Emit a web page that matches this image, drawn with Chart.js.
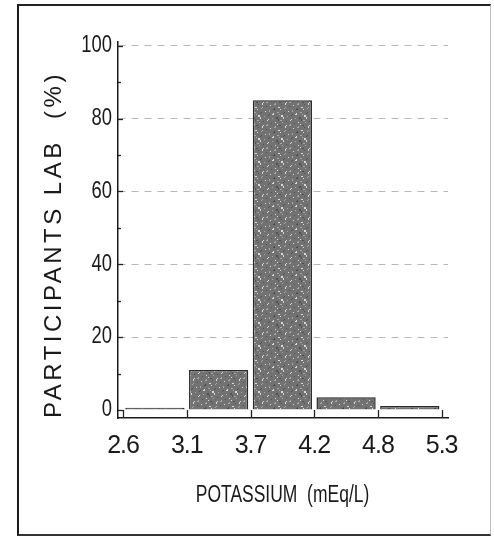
<!DOCTYPE html>
<html><head><meta charset="utf-8">
<script src="https://cdn.jsdelivr.net/npm/chart.js@4.4.1/dist/chart.umd.min.js"></script>
<style>
html,body{margin:0;padding:0;background:#fff;}
#wrap{position:relative;width:494px;height:536px;overflow:hidden;}
#frame{position:absolute;left:17px;top:4px;width:471px;height:528px;border-left:2px solid #1a1a1a;border-top:2px solid #222;border-bottom:2px solid #333;border-right:1px solid #bbb;}
canvas{position:absolute;left:0;top:0;}
</style></head><body>
<div id="wrap"><div id="frame"></div><canvas id="c" width="494" height="536" style="width:494px;height:536px"></canvas></div>
<script>
// Data
const binEdgeLabels = ['2.6', '3.1', '3.7', '4.2', '4.8', '5.3'];
const binCenters = [0.5, 1.5, 2.5, 3.5, 4.5];
const participantsPct = [0.6, 11, 85, 3.5, 1.1];
const yMajorTicks = [0, 20, 40, 60, 80, 100];

// speckled fill texture
function makePattern() {
  const p = document.createElement('canvas');
  p.width = 23; p.height = 23;
  const g = p.getContext('2d');
  g.fillStyle = '#727272';
  g.fillRect(0, 0, 23, 23);
  for (let i = 0; i < 40; i++) {
    const x = (i * 17 + 5) % 23, y = (i * 11 + (i >> 2) * 7) % 23;
    g.fillStyle = i % 3 === 0 ? 'rgba(235,235,235,0.85)' : (i % 3 === 1 ? 'rgba(190,190,190,0.7)' : 'rgba(60,60,60,0.6)');
    g.fillRect(x, y, (i % 4 === 0) ? 2 : 1, (i % 5 === 0) ? 2 : 1);
  }
  return g.createPattern(p, 'repeat');
}

function wrap(scale, name, fn) {
  if (scale['_w_' + name]) return;
  const orig = scale[name];
  scale[name] = function () { const ctx = this.ctx; ctx.save(); fn.call(this, ctx); orig.apply(this, arguments); ctx.restore(); };
  scale['_w_' + name] = true;
}

const innerTicks = {
  id: 'innerTicks',
  beforeDraw(chart) {
    const { x, y } = chart.scales;
    wrap(y, 'drawTitle', (ctx) => { ctx.letterSpacing = '3.5px'; });
    wrap(y, 'drawLabels', function (ctx) {
      const cx = this.right - 6;
      ctx.translate(cx, 0); ctx.scale(0.8, 1); ctx.translate(-cx, 0);
    });
    wrap(x, 'drawLabels', (ctx) => { ctx.letterSpacing = '-1px'; });
    wrap(x, 'drawTitle', function (ctx) {
      const cx = (this.left + this.right) / 2 - 2;
      ctx.translate(cx, 0); ctx.scale(0.76, 1); ctx.translate(-cx, 0);
    });
  },
  afterDraw(chart) {
    const { ctx, scales: { x, y } } = chart;
    ctx.save();
    ctx.strokeStyle = '#222';
    ctx.lineWidth = 1.3;
    const ax = chart.chartArea.left;
    for (let v = 0; v <= 100; v += 10) {
      const py = Math.round(y.getPixelForValue(v)) + 0.5;
      ctx.beginPath(); ctx.moveTo(ax, py); ctx.lineTo(ax + (v % 20 === 0 ? 5 : 3), py); ctx.stroke();
    }
    const by = chart.chartArea.bottom, zy = y.getPixelForValue(0);
    for (let i = 0; i < binEdgeLabels.length; i++) {
      const px = Math.round(x.getPixelForValue(i)) + 0.5;
      ctx.beginPath(); ctx.moveTo(px, by); ctx.lineTo(px, zy); ctx.stroke();
    }
    ctx.restore();
  }
};

new Chart(document.getElementById('c'), {
  type: 'bar',
  data: {
    datasets: [{
      data: binCenters.map((c, i) => ({ x: c, y: participantsPct[i] })),
      backgroundColor: makePattern(),
      borderColor: '#2a2a2a',
      borderWidth: 1.5,
      categoryPercentage: 1.0,
      barPercentage: 0.93
    }]
  },
  plugins: [innerTicks],
  options: {
    responsive: false,
    animation: false,
    layout: { padding: { left: 0, right: 46, top: 42, bottom: 0 } },
    plugins: { legend: { display: false }, tooltip: { enabled: false } },
    scales: {
      x: {
        type: 'linear',
        offset: false,
        min: -0.08, max: 5.1,
        afterFit(s) { s.height = 118; },
        ticks: {
          includeBounds: false,
          stepSize: 1,
          autoSkip: false,
          maxRotation: 0,
          padding: 13,
          color: '#1a1a1a',
          font: { family: "'Liberation Sans', Arial, sans-serif", size: 25 },
          callback: (v) => Number.isInteger(v) && binEdgeLabels[v] !== undefined ? binEdgeLabels[v] : ''
        },
        grid: { display: false, drawTicks: false, offset: false },
        border: { display: true, color: '#1a1a1a', width: 1.5 },
        title: {
          display: true,
          text: 'POTASSIUM  (mEq/L)',
          color: '#1a1a1a',
          font: { family: "'Liberation Sans', Arial, sans-serif", size: 23 },
          padding: { top: 0, bottom: 27 }
        }
      },
      y: {
        type: 'linear',
        min: -2.2, max: 101,
        afterFit(s) { s.width = 118; },
        afterBuildTicks(s) { s.ticks = yMajorTicks.map(v => ({ value: v })); },
        ticks: {
          includeBounds: false,
          padding: 6,
          color: '#1a1a1a',
          font: { family: "'Liberation Sans', Arial, sans-serif", size: 23 },
          callback: (v) => String(v)
        },
        grid: {
          drawTicks: false,
          color: (c) => (c.tick && c.tick.value === 0) ? 'rgba(0,0,0,0)' : '#b8b8b8',
          lineWidth: 1
        },
        border: { display: true, color: '#1a1a1a', width: 1.5, dash: [7, 6] },
        title: {
          display: true,
          align: 'start',
          text: 'PARTICIPANTS LAB  (%)',
          color: '#1a1a1a',
          font: { family: "'Liberation Sans', Arial, sans-serif", size: 24 },
          padding: { top: 40, bottom: 0 }
        }
      }
    }
  }
});
</script>
</body></html>
